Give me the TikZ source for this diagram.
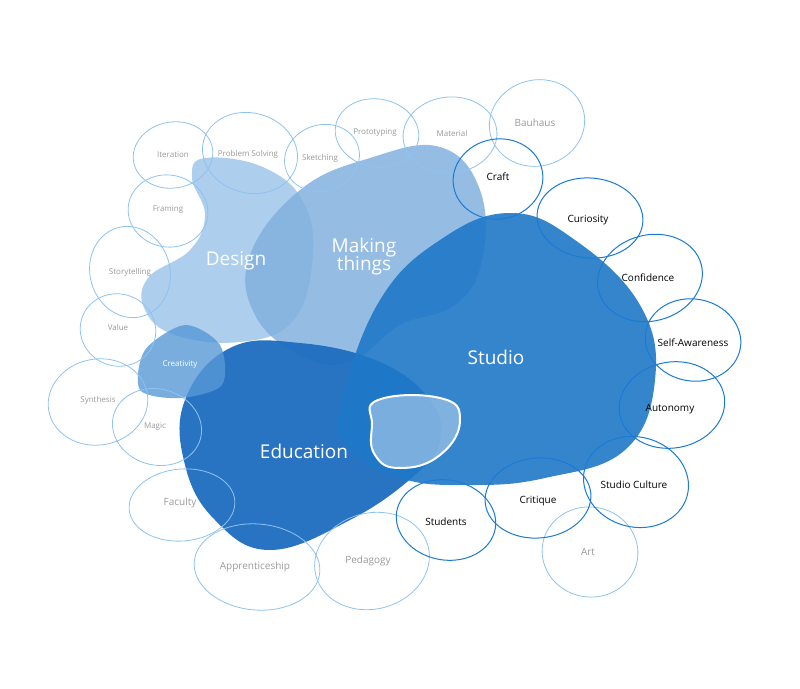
\documentclass[tikz,border=0pt]{standalone}
\usepackage{fontspec}
\setmainfont{Open Sans}
\begin{document}
\begin{tikzpicture}[x=1pt,y=-1pt,
  lo/.style={draw=lightol,line width=0.8pt},
  dk/.style={draw=darkol,line width=1pt},
  gl/.style={text=gray!80,font=\fontsize{8}{9}\selectfont},
  bl/.style={text=black,font=\fontsize{10}{12}\selectfont},
  big/.style={text=white,font=\fontsize{19}{22}\selectfont,align=center}]
\definecolor{lightol}{HTML}{8EC3F0}
\definecolor{darkol}{HTML}{1A7AD6}
\definecolor{designc}{HTML}{A9CBEC}
\definecolor{makec}{HTML}{82B1DF}
\definecolor{studioc}{HTML}{1F78C8}
\definecolor{educ}{HTML}{1E6CC0}
\useasboundingbox (0,0) rectangle (800,688);
% Design
\fill[designc,opacity=0.95] plot[smooth cycle,tension=0.7] coordinates{(205,158)(265,168)(305,205)(312,265)(292,322)(240,342)(175,335)(145,310)(148,278)(190,250)(205,215)(192,178)};
% Making things
\fill[makec,opacity=0.85] plot[smooth cycle,tension=0.7] coordinates{(250,255)(300,190)(370,158)(440,147)(480,190)(482,260)(455,305)(400,325)(350,362)(300,355)(255,315)};
% Education
\fill[educ,opacity=0.95] plot[smooth cycle,tension=0.7] coordinates{(185,400)(230,348)(300,343)(380,362)(430,400)(440,440)(415,475)(350,520)(270,550)(215,520)(185,465)};
% Studio
\fill[studioc,opacity=0.9] plot[smooth cycle,tension=0.7] coordinates{(342,400)(380,300)(440,240)(510,213)(575,240)(640,305)(655,380)(625,450)(545,478)(470,485)(400,478)(345,445)};
% Creativity blob
\fill[studioc!60!designc,opacity=0.8] plot[smooth cycle] coordinates{(145,350)(185,325)(220,345)(222,385)(180,398)(140,390)};
% center blob
\fill[fill=white!30!studioc!60,draw=white,line width=2pt,fill opacity=0.7] plot[smooth cycle,tension=0.8] coordinates{(378,400)(440,398)(460,420)(440,455)(400,468)(375,455)(372,425)};
% light outlines
\foreach \x/\y/\a/\b/\r in {173/155/40/33/10,250/153/48/40/-15,322/158/38/33/20,377/133/42/34/-10,450/135/47/38/5,537/123/48/43/15,168/211/40/36/-10,130/272/40/46/15,118/330/38/36/-20,98/402/50/43/10,157/427/45/38/-15,182/505/53/36/5,257/567/63/43/-5,372/561/58/48/15,590/552/48/45/-10}
  \draw[lo,rotate around={\r:(\x,\y)}] (\x,\y) ellipse ({\a} and {\b});
% dark outlines
\foreach \x/\y/\a/\b/\r in {498/179/45/40/10,590/218/53/40/-5,650/278/53/43/15,693/340/48/41/-10,672/405/53/43/10,636/482/53/45/-15,538/498/53/40/5,446/520/50/40/-10}
  \draw[dk,rotate around={\r:(\x,\y)}] (\x,\y) ellipse ({\a} and {\b});
% labels
\node[gl] (n1) at (173,155) {Iteration};
\node[gl] (n2) at (248,154) {Problem Solving};
\node[gl] (n3) at (320,158) {Sketching};
\node[gl] (n4) at (375,133) {Prototyping};
\node[gl] (n5) at (452,133) {Material};
\node[gl,font=\fontsize{10}{12}\selectfont] (n6) at (535,123) {Bauhaus};
\node[gl] (n7) at (168,210) {Framing};
\node[gl] (n8) at (130,272) {Storytelling};
\node[gl] (n9) at (118,327) {Value};
\node[gl] (n10) at (98,400) {Synthesis};
\node[gl,text=white] (n11) at (180,365) {Creativity};
\node[gl] (n12) at (155,427) {Magic};
\node[gl,font=\fontsize{10}{12}\selectfont] (n13) at (180,503) {Faculty};
\node[gl,font=\fontsize{10}{12}\selectfont] (n14) at (255,567) {Apprenticeship};
\node[gl,font=\fontsize{10}{12}\selectfont] (n15) at (368,561) {Pedagogy};
\node[gl,font=\fontsize{10}{12}\selectfont] (n16) at (588,552) {Art};
\node[bl] (m1) at (498,177) {Craft};
\node[bl] (m2) at (588,220) {Curiosity};
\node[bl] (m3) at (648,278) {Confidence};
\node[bl] (m4) at (693,343) {Self-Awareness};
\node[bl] (m5) at (670,409) {Autonomy};
\node[bl] (m6) at (634,485) {Studio Culture};
\node[bl] (m7) at (538,501) {Critique};
\node[bl] (m8) at (446,522) {Students};
\node[big] (d) at (236,261) {Design};
\node[big,text depth=0pt] (mk) at (364,254) {Making\\[-4pt]things};
\node[big] (s) at (496,357) {Studio};
\node[big] (e) at (304,451) {Education};
\end{tikzpicture}
\end{document}
